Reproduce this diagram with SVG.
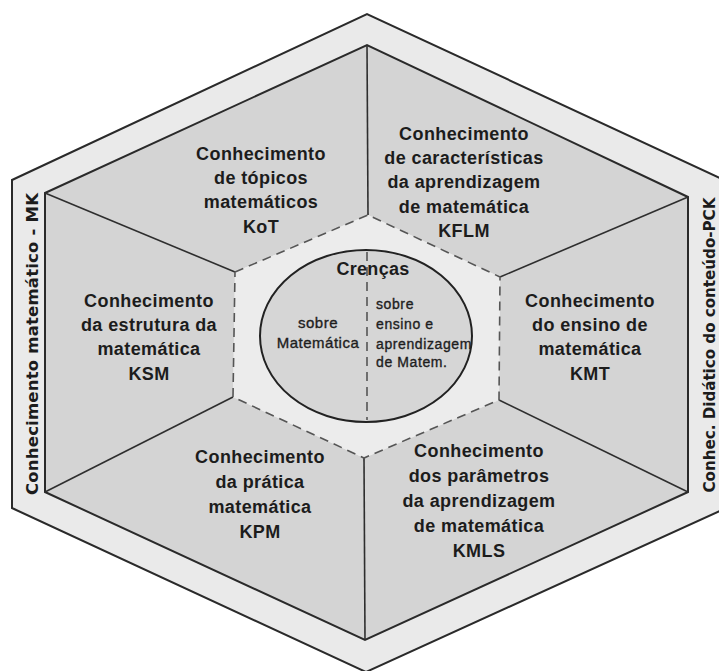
<svg xmlns="http://www.w3.org/2000/svg" width="719" height="671" viewBox="0 0 719 671">
<style>
.reg{fill:#d4d4d4;stroke:none}
.lbl{font-family:"Liberation Sans",Arial,sans-serif;font-weight:bold;font-size:18px;fill:#1c1c1c;text-anchor:middle;letter-spacing:0.4px}
.side{font-family:"DejaVu Sans","Liberation Sans",sans-serif;font-weight:bold;font-size:16.5px;fill:#1c1c1c;text-anchor:middle}
.small{font-family:"Liberation Sans",Arial,sans-serif;font-size:14px;fill:#1e1e1e;stroke:#1e1e1e;stroke-width:0.35px;letter-spacing:0.6px}
.edge{stroke:#2a2a2a;stroke-width:2;fill:none;stroke-linejoin:miter}
.spoke{stroke:#2e2e2e;stroke-width:1.6;fill:none}
.dash{stroke:#555;stroke-width:1.6;stroke-dasharray:9 6;fill:none}
</style>
<rect width="719" height="671" fill="#ffffff"/>
<g id="frame">
<polygon points="12,180 367,14 722,179 722,510 366,672 12,508" fill="#eaeaea" stroke="#2a2a2a" stroke-width="2"/>
<text class="side" transform="translate(38,344) rotate(-90)" textLength="302" lengthAdjust="spacing">Conhecimento matemático - MK</text>
<text class="side" transform="translate(715,345) rotate(-90)" style="font-size:15.2px" textLength="295" lengthAdjust="spacing">Conhec. Didático do conteúdo-PCK</text>
</g>
<g id="KoT">
<polygon class="reg" points="45,193 367,45 368,215 235,272"/>
<text class="lbl"><tspan x="261" y="160">Conhecimento</tspan><tspan x="261" y="184">de tópicos</tspan><tspan x="261" y="208">matemáticos</tspan><tspan x="261" y="233">KoT</tspan></text>
</g>
<g id="KFLM">
<polygon class="reg" points="367,45 688,197 500,277 368,215"/>
<text class="lbl"><tspan x="464" y="140">Conhecimento</tspan><tspan x="464" y="164">de características</tspan><tspan x="464" y="188">da aprendizagem</tspan><tspan x="464" y="213">de matemática</tspan><tspan x="464" y="237">KFLM</tspan></text>
</g>
<g id="KMT">
<polygon class="reg" points="688,197 688,492 499,400 500,277"/>
<text class="lbl"><tspan x="590" y="307">Conhecimento</tspan><tspan x="590" y="331">do ensino de</tspan><tspan x="590" y="355">matemática</tspan><tspan x="590" y="380">KMT</tspan></text>
</g>
<g id="KMLS">
<polygon class="reg" points="688,492 365,640 364,458 499,400"/>
<text class="lbl"><tspan x="479" y="457">Conhecimento</tspan><tspan x="479" y="482">dos parâmetros</tspan><tspan x="479" y="507">da aprendizagem</tspan><tspan x="479" y="532">de matemática</tspan><tspan x="479" y="557">KMLS</tspan></text>
</g>
<g id="KPM">
<polygon class="reg" points="365,640 45,492 233,397 364,458"/>
<text class="lbl"><tspan x="260" y="463">Conhecimento</tspan><tspan x="260" y="488">da prática</tspan><tspan x="260" y="513">matemática</tspan><tspan x="260" y="538">KPM</tspan></text>
</g>
<g id="KSM">
<polygon class="reg" points="45,492 45,193 235,272 233,397"/>
<text class="lbl"><tspan x="149" y="307">Conhecimento</tspan><tspan x="149" y="331">da estrutura da</tspan><tspan x="149" y="355">matemática</tspan><tspan x="149" y="380">KSM</tspan></text>
</g>
<g id="connectors">
<polygon class="edge" points="45,193 367,45 688,197 688,492 365,640 45,492"/>
<line class="spoke" x1="45" y1="193" x2="235" y2="272"/>
<line class="spoke" x1="367" y1="45" x2="368" y2="215"/>
<line class="spoke" x1="688" y1="197" x2="500" y2="277"/>
<line class="spoke" x1="688" y1="492" x2="499" y2="400" stroke-width="1.3"/>
<line class="spoke" x1="365" y1="640" x2="364" y2="458" stroke-width="1.3"/>
<line class="spoke" x1="45" y1="492" x2="233" y2="397" stroke-width="1.3"/>
</g>
<g id="Crencas">
<polygon points="235,272 368,215 500,277 499,400 364,458 233,397" fill="#ececec" stroke="none"/>
<polygon class="dash" points="235,272 368,215 500,277 499,400 364,458 233,397"/>
<ellipse cx="366" cy="336" rx="106" ry="86" fill="#d6d6d6" stroke="#222" stroke-width="2"/>
<line class="dash" x1="367" y1="252" x2="367" y2="420"/>
<text class="lbl" x="373" y="275" style="font-size:18px;letter-spacing:0.3px">Crenças</text>
<text class="small" text-anchor="middle" style="font-size:15px;letter-spacing:0.5px"><tspan x="318" y="328">sobre</tspan><tspan x="318" y="348">Matemática</tspan></text>
<text class="small"><tspan x="376" y="309">sobre</tspan><tspan x="376" y="329">ensino e</tspan><tspan x="376" y="349">aprendizagem</tspan><tspan x="376" y="367">de Matem.</tspan></text>
</g>
</svg>
